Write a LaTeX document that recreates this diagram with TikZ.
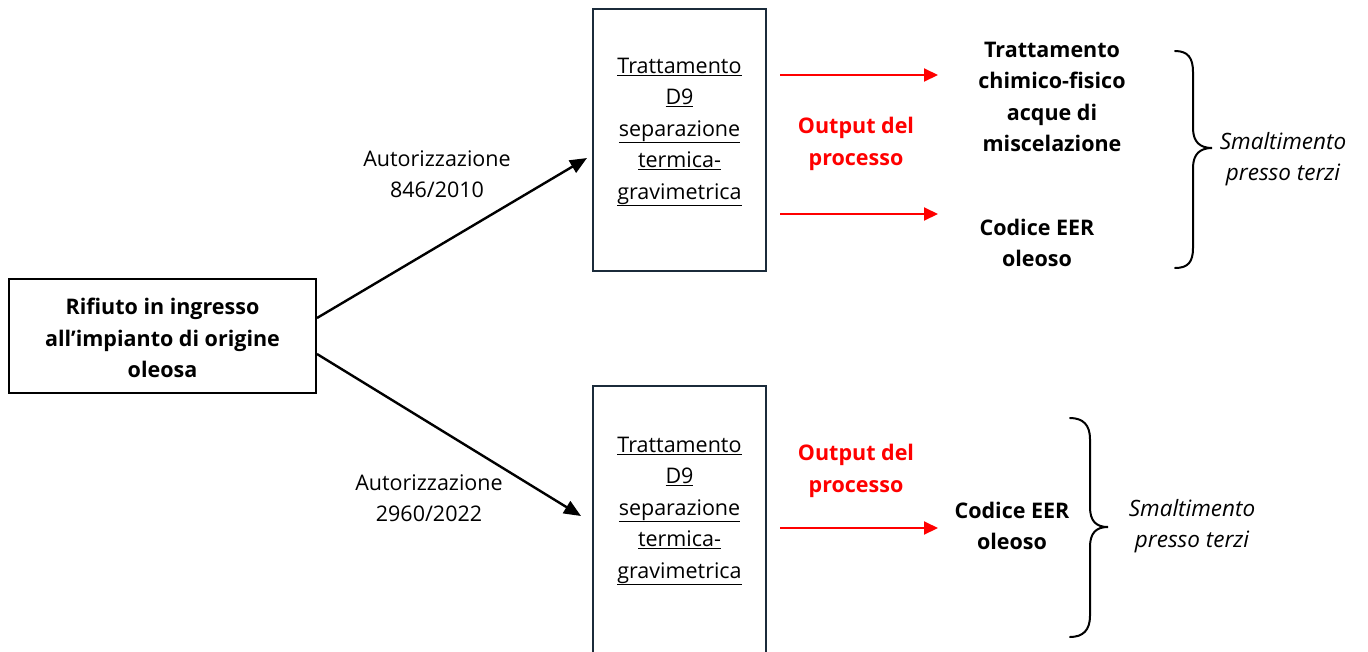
\documentclass[tikz,border=0pt]{standalone}
\usepackage{fontspec}
\setmainfont[Ligatures=NoCommon]{Open Sans}
\usetikzlibrary{arrows.meta}

\begin{document}
\begin{tikzpicture}[x=1pt,y=-1pt,
  txt/.style={font=\fontsize{21.5}{31.5}\selectfont, align=center, inner sep=0pt},
  bold/.style={txt, font=\fontsize{21.5}{31.5}\selectfont\bfseries},
  redtxt/.style={bold, text=red},
  ital/.style={txt, font=\fontsize{22.5}{31.5}\selectfont\itshape},
  inbox/.style={draw=black, line width=2pt, minimum width=307pt, minimum height=114pt, inner sep=0pt},
  procbox/.style={draw=boxedge, line width=2pt, minimum width=173pt, inner sep=0pt},
  blackarrow/.style={line width=2.4pt, -{Triangle[length=17pt,width=14pt]}},
  redarrow/.style={red, line width=2pt, -{Triangle[length=14pt,width=13pt]}},
  bracket/.style={line width=2pt, line cap=round}
]
\definecolor{boxedge}{HTML}{1B2B3A}
\clip (0,0) rectangle (1368,651);
\fill[white] (0,0) rectangle (1368,651);

% input waste box
\node[inbox] (in) at (162.5,336) {};
\node[bold] (intxt) at (162.5,338) {Rifiuto in ingresso\\all’impianto di origine\\oleosa};

% treatment boxes
\node[procbox, minimum height=262pt] (tb) at (679.5,140) {};
\node[txt] (tbtxt) at (679.5,132) {\underline{Trattamento}\\\underline{D9}\\\underline{separazione}\\\underline{termica-}\\\underline{gravimetrica}};
\node[procbox, minimum height=320pt] (bb) at (679.5,546) {};
\node[txt] (bbtxt) at (679.5,511) {\underline{Trattamento}\\\underline{D9}\\\underline{separazione}\\\underline{termica-}\\\underline{gravimetrica}};

% authorisation arrows
\draw[blackarrow] ([yshift=18pt]in.east) -- ([xshift=-5pt,yshift=-18pt]tb.west);
\draw[blackarrow] ([yshift=-18pt]in.east) -- ([xshift=-11pt,yshift=30pt]bb.west);
\node[txt] (a1) at (437,174) {Autorizzazione\\846/2010};
\node[txt] (a2) at (429,498) {Autorizzazione\\2960/2022};

% process outputs
\node[redtxt] (o1) at (856,144) {Output del\\processo};
\node[redtxt] (o2) at (856,471) {Output del\\processo};
\coordinate (e1) at (938,75);
\coordinate (e2) at (938,214);
\coordinate (e3) at (938,528);
\draw[redarrow] ([xshift=13pt,yshift=65pt]tb.east) -- (e1);
\draw[redarrow] ([xshift=13pt,yshift=-74pt]tb.east) -- (e2);
\draw[redarrow] (bb.east |- e3) ++(13,0) -- (e3);

\node[bold] (r1) at (1052,97) {Trattamento\\chimico-fisico\\acque di\\miscelazione};
\node[bold] (r2) at (1037,243) {Codice EER\\oleoso};
\node[bold] (r3) at (1012,526) {Codice EER\\oleoso};

% braces
\draw[bracket] (1175,51) .. controls (1188,51) and (1193,58) .. (1193,72) -- (1193,128)
  .. controls (1193,142) and (1200,148) .. (1212,148)
  .. controls (1200,148) and (1193,154) .. (1193,168) -- (1193,248)
  .. controls (1193,262) and (1188,268) .. (1175,268);
\draw[bracket] (1070,418) .. controls (1083,418) and (1090,425) .. (1090,439) -- (1090,507)
  .. controls (1090,521) and (1096,527) .. (1108,527)
  .. controls (1096,527) and (1090,533) .. (1090,547) -- (1090,616)
  .. controls (1090,630) and (1083,637) .. (1070,637);

\node[ital] (s1) at (1283,159) {Smaltimento\\presso terzi};
\node[ital] (s2) at (1192,526) {Smaltimento\\presso terzi};
\end{tikzpicture}
\end{document}
